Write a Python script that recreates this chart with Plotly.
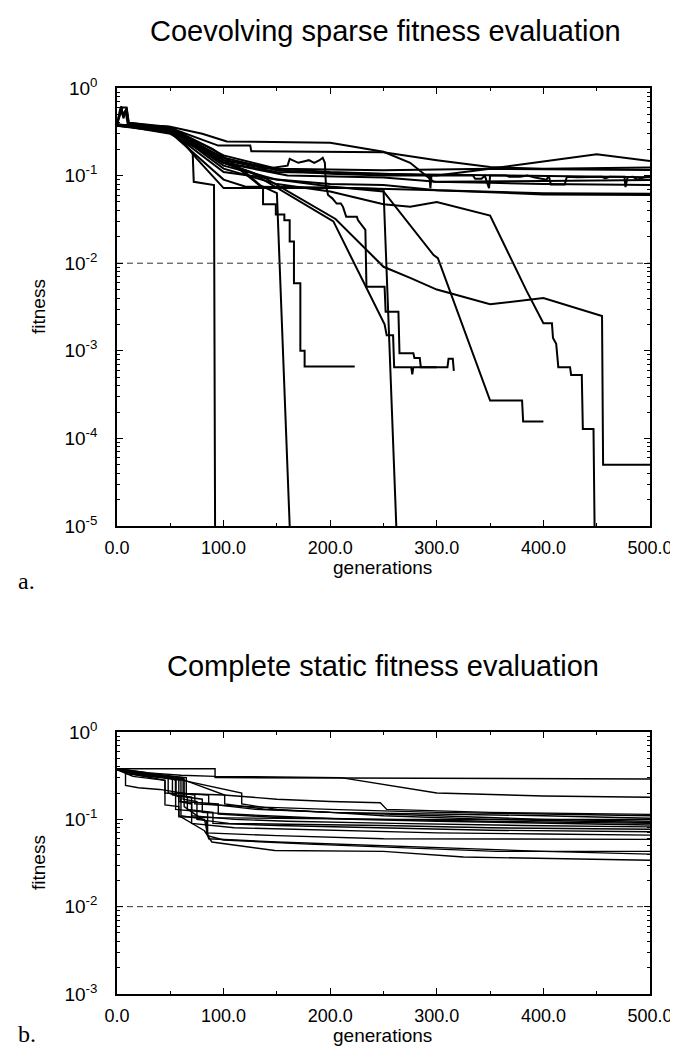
import plotly.graph_objects as go

# generation ticks and threshold
gen_ticks = [0, 100, 200, 300, 400, 500]
gen_ticktext = ["0.0", "100.0", "200.0", "300.0", "400.0", "500.0"]
target_fitness = 0.01

# %% panel a: coevolving sparse fitness evaluation, (generations, fitness) per run
a1 = ([0, 30, 50, 71, 72, 90, 91, 92],
      [0.38, 0.37, 0.35, 0.18, 0.085, 0.078, 0.078, 1e-5])
a2 = ([0, 4, 6, 9, 11, 50, 90, 120, 134, 150, 162],
      [0.38, 0.62, 0.45, 0.6, 0.4, 0.35, 0.2, 0.11, 0.078, 0.063, 1e-5])
a3 = ([0, 50, 90, 116, 137, 137, 149, 149, 157, 157, 162, 162, 166, 166, 172, 172, 176, 176, 223],
      [0.38, 0.36, 0.18, 0.115, 0.072, 0.047, 0.047, 0.036, 0.036, 0.031, 0.031, 0.0177, 0.0177,
       0.0059, 0.0059, 0.001, 0.001, 0.00066, 0.00066])
a4 = ([0, 50, 75, 100, 219, 250, 262],
      [0.38, 0.36, 0.155, 0.072, 0.072, 0.07, 1e-5])
a5 = ([0, 5, 9, 11, 50, 100, 140, 160, 162, 165, 170, 175, 180, 185, 190, 193, 195, 196, 198, 202,
       206, 210, 212, 215, 225, 226, 230, 233, 234, 251, 252, 264, 265, 278, 279, 284, 285, 310, 311,
       315, 316],
      [0.38, 0.6, 0.6, 0.4, 0.36, 0.15, 0.12, 0.13, 0.155, 0.15, 0.14, 0.145, 0.15, 0.14, 0.15, 0.16,
       0.14, 0.077, 0.06, 0.055, 0.048, 0.048, 0.044, 0.034, 0.034, 0.031, 0.027, 0.024, 0.0054, 0.0054,
       0.0028, 0.0028, 0.00094, 0.00094, 0.00083, 0.00083, 0.00065, 0.00065, 0.00081, 0.00081, 0.00059])
a6 = ([0, 50, 100, 125, 203, 251, 253, 259, 260, 276, 277, 278, 300],
      [0.38, 0.35, 0.14, 0.11, 0.03, 0.002, 0.0015, 0.0015, 0.00065, 0.00065, 0.00054, 0.00065, 0.00065])
a7 = ([0, 50, 100, 135, 205, 250, 275, 300, 350, 400, 455, 456, 500],
      [0.38, 0.33, 0.14, 0.1, 0.032, 0.0091, 0.0068, 0.005, 0.0034, 0.004, 0.0025, 5e-5, 5e-5])
a8 = ([0, 50, 100, 150, 200, 250, 275, 300, 350, 384, 400, 408, 409, 412, 414, 425, 426, 436, 437,
       447, 448],
      [0.37, 0.34, 0.12, 0.08, 0.066, 0.047, 0.044, 0.05, 0.035, 0.0049, 0.00206, 0.00206, 0.0014,
       0.0012, 0.00065, 0.00065, 0.00053, 0.00053, 0.000128, 0.000128, 1e-5])
a9 = ([0, 50, 100, 150, 200, 250, 297, 301, 350, 380, 381, 400],
      [0.37, 0.34, 0.13, 0.09, 0.075, 0.066, 0.0124, 0.0114, 0.00027, 0.00027, 0.000156, 0.000156])
a10 = ([0, 3, 5, 8, 10, 50, 100, 150, 200, 250, 300, 350, 400, 450, 500],
       [0.38, 0.58, 0.5, 0.55, 0.39, 0.35, 0.17, 0.12, 0.11, 0.105, 0.1, 0.12, 0.144, 0.175, 0.147])
a11 = ([0, 20, 50, 80, 103, 200, 250, 275, 297, 350, 400, 500],
       [0.38, 0.37, 0.36, 0.3, 0.245, 0.237, 0.187, 0.14, 0.085, 0.083, 0.08, 0.078])
a12 = ([0, 50, 95, 125, 126, 250, 300, 350, 400, 500],
       [0.38, 0.35, 0.22, 0.22, 0.19, 0.185, 0.15, 0.125, 0.12, 0.124])
a13 = ([0, 50, 100, 150, 200, 250, 293, 294, 295, 334, 336, 342, 345, 349, 350, 365, 368, 378, 385,
        392, 403, 405, 407, 420, 422, 432, 455, 458, 462, 476, 477, 479, 484, 488, 494, 500],
       [0.38, 0.33, 0.16, 0.115, 0.105, 0.1, 0.1, 0.072, 0.1, 0.1, 0.092, 0.092, 0.1, 0.072, 0.1, 0.1,
        0.097, 0.097, 0.1, 0.095, 0.09, 0.1, 0.079, 0.079, 0.097, 0.096, 0.097, 0.093, 0.097, 0.097,
        0.074, 0.096, 0.097, 0.09, 0.095, 0.097])
a14 = ([0, 50, 100, 150, 250, 350, 400, 500],
       [0.37, 0.33, 0.15, 0.12, 0.115, 0.12, 0.118, 0.116])
a15 = ([0, 50, 100, 150, 250, 350, 500],
       [0.38, 0.34, 0.14, 0.11, 0.104, 0.1, 0.096])
a16 = ([0, 50, 100, 160, 250, 300, 400, 500],
       [0.38, 0.3, 0.14, 0.1, 0.095, 0.085, 0.087, 0.089])
a17 = ([0, 50, 100, 150, 200, 250, 300, 400, 500],
       [0.38, 0.32, 0.11, 0.09, 0.08, 0.078, 0.068, 0.063, 0.062])
a18 = ([0, 50, 100, 120, 200, 300, 400, 500],
       [0.37, 0.31, 0.09, 0.075, 0.073, 0.068, 0.061, 0.06])
panel_a = [a1, a2, a3, a4, a5, a6, a7, a8, a9, a10, a11, a12, a13, a14, a15, a16, a17, a18]

# %% panel b: complete static fitness evaluation
b1 = ([0, 92, 92, 250, 500], [0.38, 0.38, 0.30, 0.295, 0.29])
b2 = ([0, 30, 60, 92, 210, 250, 300, 400, 500], [0.38, 0.34, 0.32, 0.31, 0.30, 0.25, 0.2, 0.185, 0.179])
b3 = ([0, 20, 45, 45, 100, 150, 200, 247, 253, 350, 500],
      [0.37, 0.32, 0.28, 0.2, 0.19, 0.17, 0.16, 0.155, 0.13, 0.12, 0.114])
b4 = ([0, 8, 8, 20, 40, 73, 73, 120, 200, 300, 400, 500],
      [0.38, 0.36, 0.245, 0.23, 0.22, 0.19, 0.15, 0.14, 0.13, 0.12, 0.115, 0.11])
b5 = ([0, 25, 50, 55, 55, 86, 86, 130, 200, 300, 400, 500],
      [0.38, 0.33, 0.3, 0.29, 0.2, 0.19, 0.15, 0.13, 0.12, 0.115, 0.11, 0.103])
b6 = ([0, 15, 45, 45, 58, 58, 100, 160, 250, 350, 450, 500],
      [0.37, 0.31, 0.28, 0.146, 0.14, 0.107, 0.104, 0.102, 0.1, 0.1, 0.1, 0.1])
b7 = ([0, 30, 60, 101, 101, 140, 200, 300, 400, 500],
      [0.38, 0.33, 0.29, 0.19, 0.15, 0.13, 0.12, 0.11, 0.1, 0.095])
b8 = ([0, 20, 50, 117, 117, 150, 200, 250, 350, 450, 500],
      [0.38, 0.34, 0.3, 0.2, 0.15, 0.13, 0.12, 0.11, 0.1, 0.095, 0.092])
b9 = ([0, 10, 40, 60, 60, 95, 95, 150, 250, 350, 500],
      [0.38, 0.33, 0.3, 0.28, 0.16, 0.15, 0.115, 0.105, 0.1, 0.095, 0.09])
b10 = ([0, 35, 65, 65, 80, 80, 140, 220, 300, 400, 500],
       [0.37, 0.32, 0.3, 0.18, 0.17, 0.12, 0.11, 0.1, 0.095, 0.09, 0.086])
b11 = ([0, 20, 55, 55, 70, 70, 110, 160, 260, 380, 500],
       [0.38, 0.33, 0.29, 0.19, 0.18, 0.11, 0.1, 0.095, 0.09, 0.085, 0.082])
b12 = ([0, 40, 62, 62, 75, 75, 105, 160, 250, 350, 500],
       [0.38, 0.33, 0.3, 0.17, 0.16, 0.1, 0.09, 0.088, 0.085, 0.08, 0.077])
b13 = ([0, 30, 52, 52, 66, 66, 90, 90, 150, 250, 350, 500],
       [0.37, 0.32, 0.3, 0.19, 0.18, 0.13, 0.12, 0.09, 0.085, 0.08, 0.075, 0.072])
b14 = ([0, 25, 58, 58, 70, 70, 110, 200, 300, 400, 500],
       [0.38, 0.32, 0.3, 0.16, 0.15, 0.09, 0.08, 0.075, 0.07, 0.068, 0.066])
b15 = ([0, 30, 63, 63, 80, 84, 84, 150, 250, 500],
       [0.38, 0.32, 0.29, 0.14, 0.1, 0.095, 0.07, 0.065, 0.06, 0.059])
b16 = ([0, 20, 50, 55, 55, 85, 85, 100, 180, 250, 356, 500],
       [0.37, 0.33, 0.3, 0.28, 0.13, 0.12, 0.065, 0.058, 0.052, 0.048, 0.043, 0.043])
b17 = ([0, 15, 48, 48, 60, 60, 82, 86, 150, 250, 300, 400, 500],
       [0.38, 0.33, 0.3, 0.2, 0.18, 0.11, 0.1, 0.06, 0.055, 0.05, 0.047, 0.043, 0.04])
b18 = ([0, 35, 55, 55, 58, 58, 82, 89, 148, 250, 325, 500],
       [0.38, 0.32, 0.29, 0.19, 0.18, 0.11, 0.074, 0.055, 0.044, 0.043, 0.037, 0.034])
panel_b = [b1, b2, b3, b4, b5, b6, b7, b8, b9, b10, b11, b12, b13, b14, b15, b16, b17, b18]


# the page body has an 8px margin on every side; keep the figure inside the
# window so that no scrollbar appears
OFF = 8
W, H = 678 - OFF, 1057 - 2 * OFF
FONT = "Liberation Sans, Arial, Helvetica, sans-serif"


def px_x(px):
    return (px - OFF) / W


def px_y(py):
    return 1 - (py - OFF) / H


fig = go.Figure()

for gens, fit in panel_a:
    fig.add_trace(go.Scatter(x=gens, y=fit, mode="lines", xaxis="x", yaxis="y",
                             line=dict(color="black", width=2), showlegend=False))
for gens, fit in panel_b:
    fig.add_trace(go.Scatter(x=gens, y=fit, mode="lines", xaxis="x2", yaxis="y2",
                             line=dict(color="black", width=1.4), showlegend=False))

# dashed target line in both panels
for xa, ya in (("x", "y"), ("x2", "y2")):
    fig.add_trace(go.Scatter(x=[gen_ticks[0], gen_ticks[-1]], y=[target_fitness, target_fitness],
                             mode="lines", xaxis=xa, yaxis=ya, showlegend=False,
                             line=dict(color="#333333", width=1, dash="6px,4px")))


def log_ticks(lo, hi):
    vals = [10.0 ** e for e in range(lo, hi + 1)]
    text = [f"10<sup>{e}</sup>" for e in range(lo, hi + 1)]
    minor = [k * 10.0 ** e for e in range(lo, hi) for k in range(2, 10)]
    return vals, text, minor


def xaxis_style(anchor):
    return dict(domain=[px_x(117), px_x(650)], anchor=anchor, range=[0, 500], tickmode="array",
                tickvals=gen_ticks, ticktext=gen_ticktext, ticks="inside", ticklen=6,
                tickwidth=1, tickcolor="black", mirror="ticks", showline=True,
                linecolor="black", linewidth=1.5, showgrid=False, zeroline=False,
                automargin=False,
                tickfont=dict(family=FONT, size=18, color="black"), ticklabelstandoff=5,
                minor=dict(dtick=50, tick0=0, ticks="inside", ticklen=3, tickcolor="black",
                           showgrid=False))


def yaxis_style(top, bottom, anchor, lo):
    vals, text, minor = log_ticks(lo, 0)
    return dict(domain=[px_y(bottom), px_y(top)], anchor=anchor, type="log", range=[lo, 0],
                tickmode="array", tickvals=vals, ticktext=text, ticks="inside", ticklen=6,
                tickwidth=1, tickcolor="black", mirror="ticks", showline=True, linecolor="black",
                linewidth=1.5, showgrid=False, zeroline=False, automargin=False,
                tickfont=dict(family=FONT, size=19, color="black"), ticklabelstandoff=14,
                minor=dict(tickmode="array", tickvals=minor, ticks="inside", ticklen=3,
                           tickcolor="black", showgrid=False))


fig.update_layout(
    width=W, height=H, margin=dict(l=0, r=0, t=0, b=0, autoexpand=False),
    paper_bgcolor="white", plot_bgcolor="white",
    xaxis=xaxis_style("y"),
    yaxis=yaxis_style(88, 526, "x", -5),
    xaxis2=xaxis_style("y2"),
    yaxis2=yaxis_style(732, 994, "x2", -3),
)


def label(text, px, py, size, angle=0, family=FONT, xanchor="center", yanchor="middle"):
    fig.add_annotation(text=text, x=px_x(px), y=px_y(py), xref="paper", yref="paper",
                       showarrow=False, textangle=angle, xanchor=xanchor, yanchor=yanchor,
                       font=dict(family=family, size=size, color="black"))


SERIF = "Liberation Serif, Times New Roman, serif"
label("Coevolving sparse fitness evaluation", 385, 31, 29)
label("Complete static fitness evaluation", 383, 666, 29)
label("generations", 383, 567, 19)
label("generations", 383, 1035, 19)
label("fitness", 38, 307, 19, angle=-90)
label("fitness", 38, 863, 19, angle=-90)
label("a.", 16, 581, 24, family=SERIF, xanchor="left")
label("b.", 16, OFF + H, 24, family=SERIF, xanchor="left", yanchor="bottom")

fig.write_html("out.html")
